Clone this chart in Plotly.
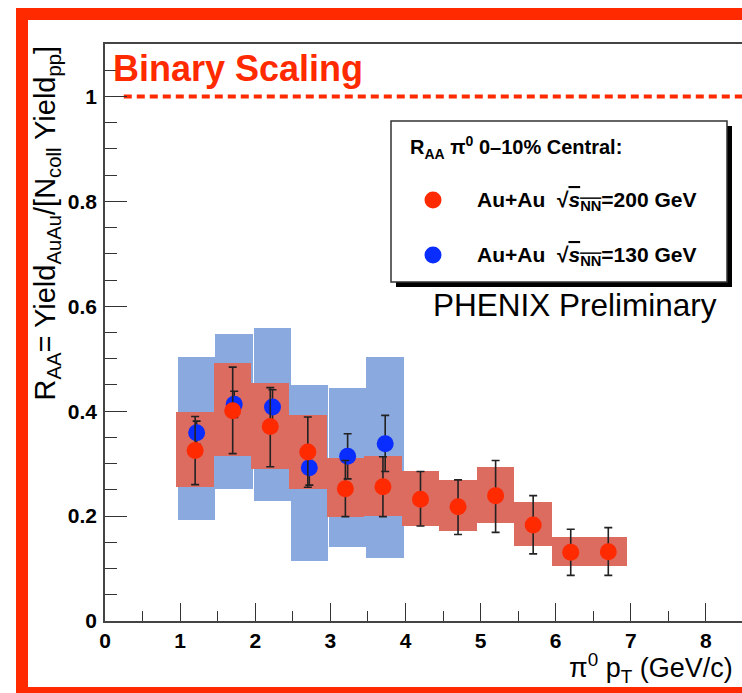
import plotly.graph_objects as go

# ---------------- data ----------------
pt_200 = [1.2, 1.7, 2.2, 2.7, 3.2, 3.7, 4.2, 4.7, 5.2, 5.7, 6.2, 6.7]
raa_200 = [0.325, 0.401, 0.371, 0.322, 0.252, 0.256, 0.232, 0.218, 0.239, 0.183, 0.131, 0.132]
err_up_200 = [0.390, 0.484, 0.445, 0.389, 0.306, 0.313, 0.285, 0.269, 0.306, 0.239, 0.175, 0.178]
err_lo_200 = [0.260, 0.319, 0.294, 0.255, 0.199, 0.199, 0.181, 0.165, 0.169, 0.128, 0.087, 0.087]
sys_hi_200 = [0.399, 0.492, 0.453, 0.392, 0.310, 0.314, 0.286, 0.268, 0.293, 0.226, 0.161, 0.161]
sys_lo_200 = [0.255, 0.314, 0.289, 0.252, 0.199, 0.201, 0.182, 0.171, 0.187, 0.143, 0.104, 0.104]

pt_130 = [1.22, 1.72, 2.23, 2.72, 3.23, 3.73]
raa_130 = [0.359, 0.413, 0.408, 0.292, 0.314, 0.338]
err_up_130 = [0.381, 0.438, 0.441, 0.322, 0.357, 0.392]
err_lo_130 = [0.337, 0.388, 0.375, 0.259, 0.271, 0.285]
sys_hi_130 = [0.503, 0.547, 0.558, 0.450, 0.445, 0.503]
sys_lo_130 = [0.192, 0.252, 0.228, 0.115, 0.142, 0.120]

box_width = 0.5
binary_x = [0.25, 8.6]
binary_y = [1.0, 1.0]

x_ticks = [0, 1, 2, 3, 4, 5, 6, 7, 8]
y_ticks = [0, 0.2, 0.4, 0.6, 0.8, 1.0]
y_ticktext = ["0", "0.2", "0.4", "0.6", "0.8", "1"]

# ---------------- style ----------------
W, H = 742, 693
ML, MR, MT, MB = 105, 0, 44, 72
PW, PH = W - ML - MR, H - MT - MB
FONT = "Liberation Sans, Arial, Helvetica, sans-serif"
RED = "#ff2a00"
RED_BOX = "#dc6b60"
BLUE = "#0a2dff"
BLUE_BOX = "#8aa9de"
FRAME = "#ff2a00"


def px(x):
    return (x - ML) / PW


def py(y):
    return (H - MB - y) / PH


fig = go.Figure()

# systematic boxes
fig.add_trace(go.Bar(
    x=pt_130, y=[h - l for h, l in zip(sys_hi_130, sys_lo_130)], base=sys_lo_130,
    width=box_width, marker=dict(color=BLUE_BOX, line=dict(width=0)), showlegend=False,
    hoverinfo="skip"))
fig.add_trace(go.Bar(
    x=pt_200, y=[h - l for h, l in zip(sys_hi_200, sys_lo_200)], base=sys_lo_200,
    width=box_width, marker=dict(color=RED_BOX, line=dict(width=0)), showlegend=False,
    hoverinfo="skip"))

# binary scaling line
fig.add_trace(go.Scatter(x=binary_x, y=binary_y, mode="lines",
                         line=dict(color=RED, width=4, dash="8px,5px"), showlegend=False))

# points
fig.add_trace(go.Scatter(
    x=pt_130, y=raa_130, mode="markers",
    marker=dict(color=BLUE, size=17),
    error_y=dict(type="data", symmetric=False,
                 array=[u - v for u, v in zip(err_up_130, raa_130)],
                 arrayminus=[v - l for v, l in zip(raa_130, err_lo_130)],
                 color="#222222", thickness=1.6, width=4),
    showlegend=False))
fig.add_trace(go.Scatter(
    x=pt_200, y=raa_200, mode="markers",
    marker=dict(color=RED, size=17),
    error_y=dict(type="data", symmetric=False,
                 array=[u - v for u, v in zip(err_up_200, raa_200)],
                 arrayminus=[v - l for v, l in zip(raa_200, err_lo_200)],
                 color="#222222", thickness=1.6, width=4),
    showlegend=False))

shapes = []
# red frame
shapes.append(dict(type="rect", xref="paper", yref="paper", x0=px(16), x1=px(760), y0=py(8), y1=py(20),
                   fillcolor=FRAME, line=dict(width=0), layer="above"))
shapes.append(dict(type="rect", xref="paper", yref="paper", x0=px(16), x1=px(28), y0=py(8), y1=py(700),
                   fillcolor=FRAME, line=dict(width=0), layer="above"))
shapes.append(dict(type="rect", xref="paper", yref="paper", x0=px(16), x1=px(760), y0=py(687), y1=py(700),
                   fillcolor=FRAME, line=dict(width=0), layer="above"))
# legend box with shadow
shapes.append(dict(type="rect", xref="paper", yref="paper", x0=px(396), x1=px(732), y0=py(126), y1=py(287),
                   fillcolor="black", line=dict(width=0), layer="above"))
shapes.append(dict(type="rect", xref="paper", yref="paper", x0=px(391), x1=px(727), y0=py(121), y1=py(282),
                   fillcolor="white", line=dict(color="#333333", width=1.5), layer="above"))
# legend markers
for yy, col in [(200, RED), (255, BLUE)]:
    shapes.append(dict(type="circle", xref="paper", yref="paper", xsizemode="pixel", ysizemode="pixel",
                       xanchor=px(433), yanchor=py(yy), x0=-8.5, x1=8.5, y0=-8.5, y1=8.5,
                       fillcolor=col, line=dict(width=0), layer="above"))

annotations = []


def ann(text, x, y, size, xanchor="left", yanchor="middle", color="black", angle=0):
    annotations.append(dict(text=text, xref="paper", yref="paper", x=px(x), y=py(y),
                            xanchor=xanchor, yanchor=yanchor, showarrow=False, textangle=angle,
                            font=dict(family=FONT, size=size, color=color)))


ann("<b>Binary Scaling</b>", 111, 69, 36, color=RED)
ann("<b>R<sub>AA</sub> π<sup>0</sup> 0–10% Central:</b>", 408, 147, 20)
ann("<b>Au+Au\u00a0\u00a0√<span style='text-decoration:overline'><i>s</i><sub>NN</sub></span>=200 GeV</b>", 475, 201, 21)
ann("<b>Au+Au\u00a0\u00a0√<span style='text-decoration:overline'><i>s</i><sub>NN</sub></span>=130 GeV</b>", 475, 256, 21)
ann("PHENIX Preliminary", 431, 305, 31.5, color="black")
ann("π<sup>0</sup> p<sub>T</sub> (GeV/c)", 735, 668, 27, xanchor="right")
ann("R<sub>AA</sub>= Yield<sub>AuAu</sub>/[N<sub>coll</sub> Yield<sub>pp</sub>]", 46, 44, 29,
    xanchor="center", yanchor="top", angle=-90)

fig.update_layout(
    width=W, height=H,
    margin=dict(l=ML, r=MR, t=MT, b=MB, pad=0),
    paper_bgcolor="white", plot_bgcolor="white",
    barmode="overlay", bargap=0,
    shapes=shapes, annotations=annotations,
    showlegend=False,
    font=dict(family=FONT),
)
fig.update_xaxes(
    range=[0, 8.48], tickvals=x_ticks, ticks="inside", ticklen=18, tickwidth=1.3, tickcolor="#333333",
    showline=True, linecolor="#444444", linewidth=1.5, mirror=True, showgrid=False, zeroline=False,
    tickfont=dict(family=FONT, size=21, color="black", weight="bold"), ticklabelstandoff=0,
    minor=dict(dtick=0.5, ticks="inside", ticklen=10, tickwidth=1.3, tickcolor="#333333", showgrid=False),
)
fig.update_yaxes(
    range=[0, 1.1], tickvals=y_ticks, ticktext=y_ticktext,
    ticks="inside", ticklen=22, tickwidth=1.3, tickcolor="#333333",
    showline=True, linecolor="#444444", linewidth=1.5, mirror=False, showgrid=False, zeroline=False,
    tickfont=dict(family=FONT, size=21, color="black", weight="bold"), ticklabelstandoff=2,
    minor=dict(dtick=0.05, ticks="inside", ticklen=12, tickwidth=1.3, tickcolor="#333333", showgrid=False),
)

fig.write_html("out.html")
